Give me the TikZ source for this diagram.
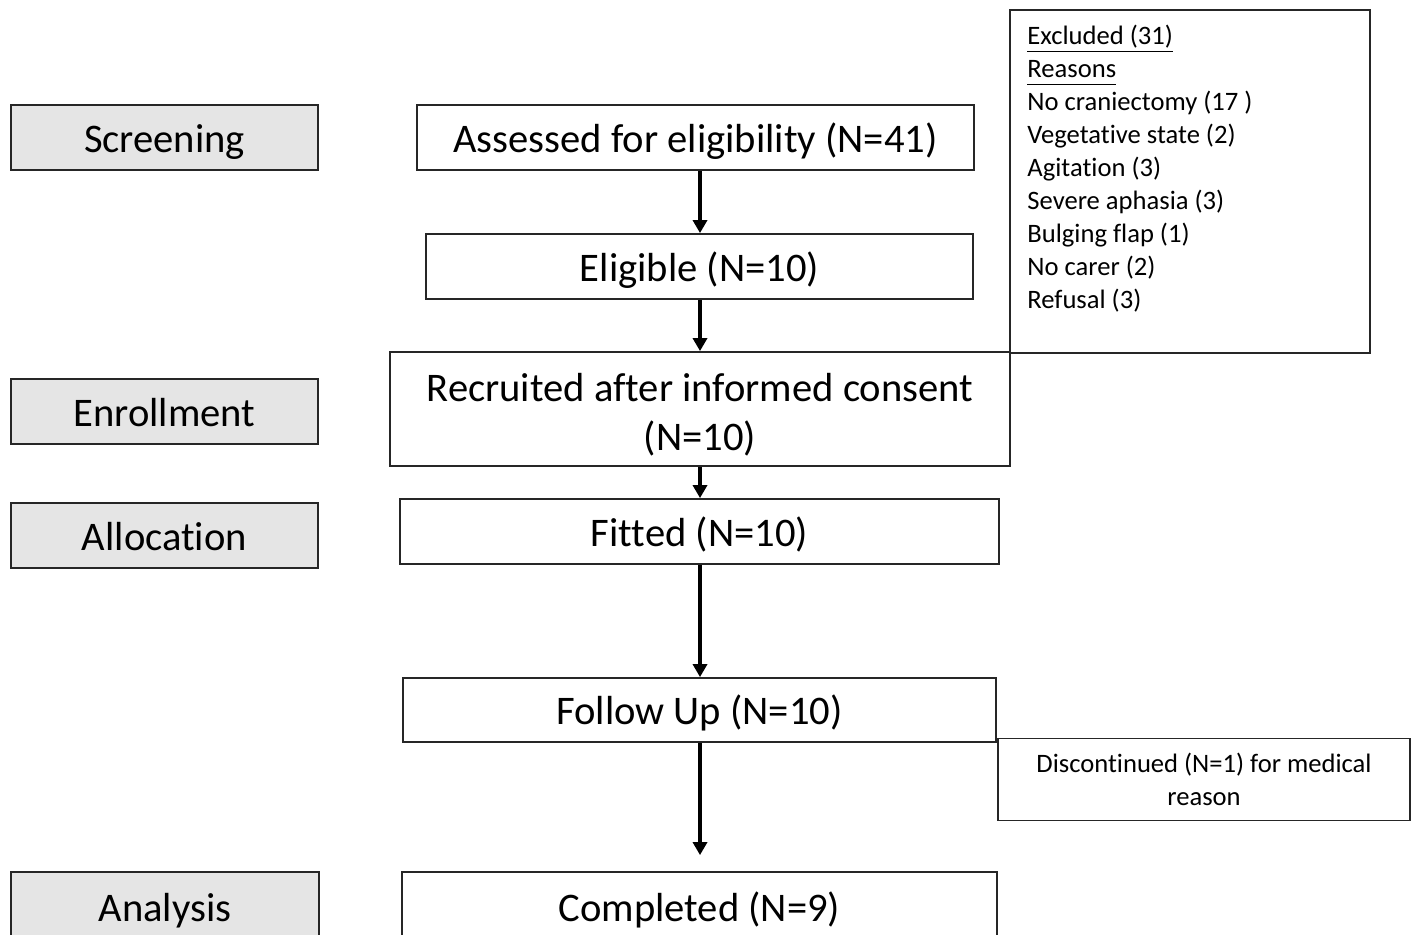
\documentclass[tikz,border=0pt]{standalone}
\usepackage{fontspec}
\setmainfont{Carlito}[Ligatures=NoCommon]
\usetikzlibrary{arrows.meta}
\begin{document}
\begin{tikzpicture}[x=0.5pt,y=-0.5pt,
  box/.style={draw=black!85, line width=0.9pt, inner sep=0pt, align=center,
    font=\fontsize{20.3}{24.5}\selectfont},
  one/.style={text height=14.6pt, text depth=0pt},
  stagebox/.style={box, one, fill=black!10},
  smallbox/.style={draw=black!85, line width=0.9pt, inner sep=0pt, align=center,
    font=\fontsize{13.3}{16.5}\selectfont},
  arr/.style={line width=2pt, -{Triangle[width=7pt,length=6.5pt]}}]
\useasboundingbox (0,0) rectangle (1416,934);
\clip (0,0) rectangle (1416,934);
\fill[white] (0,0) rectangle (1416,934);
\coordinate (axis) at (700,0);
% stage labels
\node[stagebox, minimum width=153.5pt, minimum height=32.5pt] (screening) at (164.5,137.5) {Screening};
\node[stagebox, minimum width=153.5pt, minimum height=32.5pt] (enroll) at (164.5,411.5) {Enrollment};
\node[stagebox, minimum width=153.5pt, minimum height=32.5pt] (alloc) at (164.5,535.5) {Allocation};
\node[stagebox, minimum width=154pt, minimum height=35pt] (analysis) at (165,907) {Analysis};
% flow boxes
\node[box, one, minimum width=278.5pt, minimum height=32.5pt] (assessed) at (695.5,137.5) {Assessed for eligibility (N=41)};
\node[box, one, minimum width=273.5pt, minimum height=32.5pt] (eligible) at (699.5,266.5) {Eligible (N=10)};
\node[box, minimum width=310pt, minimum height=57pt] (recruited) at (700,409) {\rule{0pt}{19.5pt}Recruited after informed consent\\(N=10)};
\node[box, one, minimum width=299.5pt, minimum height=32.5pt] (fitted) at (699.5,531.5) {Fitted (N=10)};
\node[box, one, minimum width=296.5pt, minimum height=32pt] (followup) at (699.5,710) {Follow Up (N=10)};
\node[box, one, minimum width=297.5pt, minimum height=35pt] (completed) at (699.5,907) {Completed (N=9)};
% side boxes
\node[smallbox, minimum width=180pt, minimum height=171.5pt] (excluded) at (1190,181.5) {};
\node[anchor=north west, inner sep=0pt, align=left, font=\fontsize{13.3}{16.5}\selectfont] (exclist) at (1027,25)
  {\underline{Excluded (31)}\\\underline{Reasons\vphantom{()}}\\No craniectomy (17 )\\Vegetative state (2)\\Agitation (3)\\Severe aphasia (3)\\Bulging flap (1)\\No carer (2)\\Refusal (3)};
\node[smallbox, minimum width=206pt, minimum height=41pt] (discont) at (1204,779.5) {Discontinued (N=1) for medical\\reason};
% arrows
\draw[arr] (assessed.south -| axis) -- (eligible.north -| axis);
\draw[arr] (eligible.south -| axis) -- (recruited.north -| axis);
\draw[arr] (recruited.south -| axis) -- (fitted.north -| axis);
\draw[arr] (fitted.south -| axis) -- (followup.north -| axis);
\draw[arr, shorten >=8pt] (followup.south -| axis) -- (completed.north -| axis);
\end{tikzpicture}
\end{document}
